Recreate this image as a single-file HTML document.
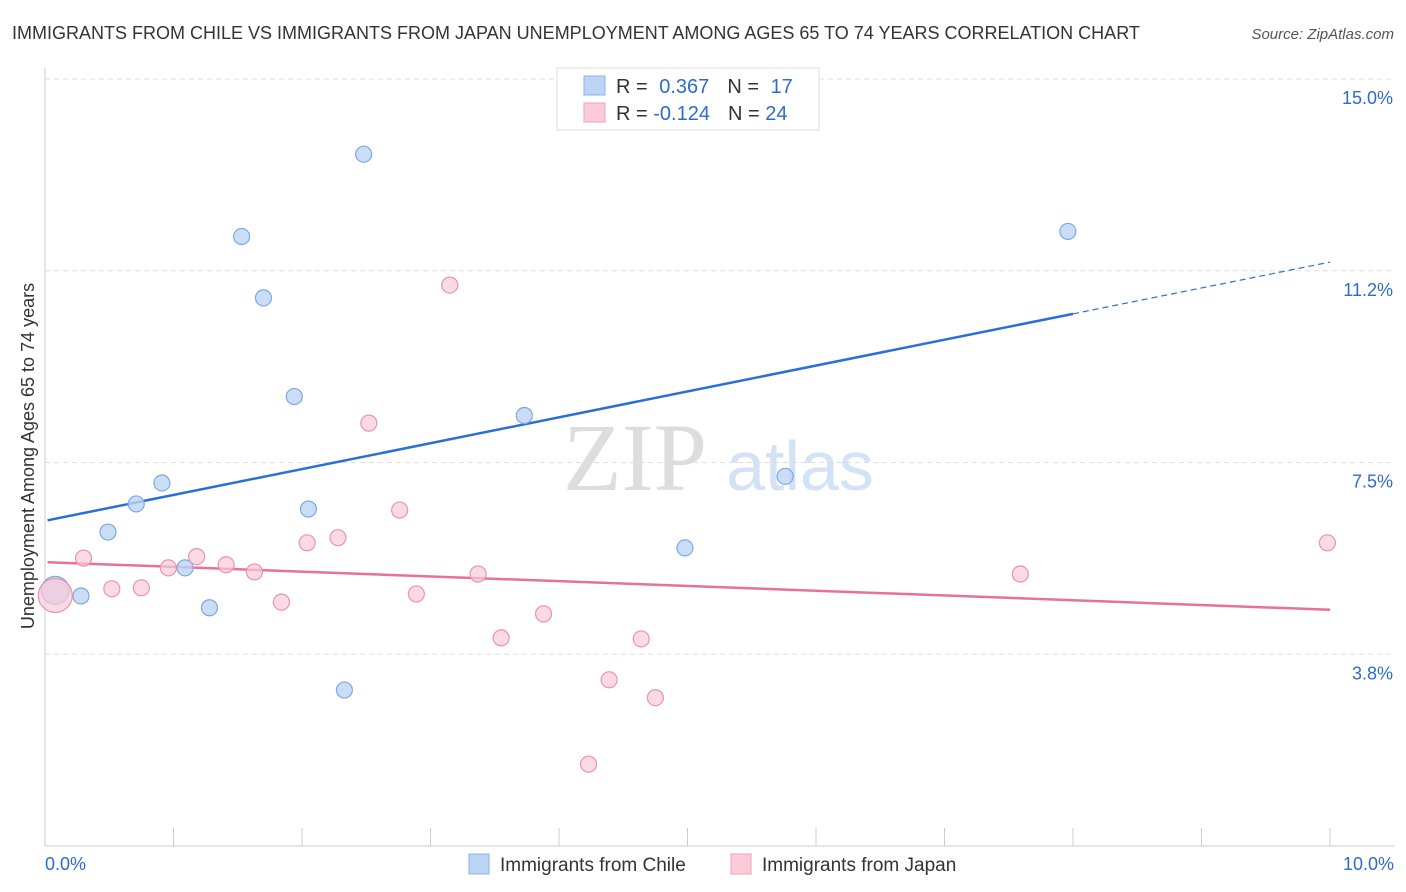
<!DOCTYPE html>
<html><head><meta charset="utf-8"><style>
body{margin:0;background:#fff;font-family:"Liberation Sans",sans-serif;}
svg{display:block}
</style></head><body>
<svg id="chart" width="1406" height="892">
<text x="12" y="39" font-size="18" fill="#333">IMMIGRANTS FROM CHILE VS IMMIGRANTS FROM JAPAN UNEMPLOYMENT AMONG AGES 65 TO 74 YEARS CORRELATION CHART</text>
<text x="1394" y="39" font-size="15" fill="#555" font-style="italic" text-anchor="end">Source: ZipAtlas.com</text>
<text x="635" y="490" font-size="96" fill="#ddd" font-family="Liberation Serif,serif" text-anchor="middle">ZIP</text>
<text x="800" y="490" font-size="70" fill="#d4e2f5" text-anchor="middle">atlas</text>
<text transform="translate(34,456) rotate(-90)" font-size="18" fill="#333" text-anchor="middle">Unemployment Among Ages 65 to 74 years</text>
<g id="grid"></g><g id="lines"></g><g id="points"></g>
<g>
<rect x="557" y="68" width="262" height="62" fill="#fff" stroke="#ddd"/>
<rect x="584" y="76" width="21" height="19" fill="#bcd4f5" stroke="#8cb3e8"/>
<rect x="584" y="103" width="21" height="19" fill="#fbcbd8" stroke="#efa0b8"/>
<text x="616" y="93" font-size="20" fill="#333">R = <tspan fill="#2d6bd0" dx="6">0.367</tspan><tspan fill="#333" dx="18">N = </tspan><tspan fill="#2d6bd0" dx="6">17</tspan></text>
<text x="616" y="120" font-size="20" fill="#333">R = <tspan fill="#2d6bd0">-0.124</tspan><tspan fill="#333" dx="18">N = </tspan><tspan fill="#2d6bd0">24</tspan></text>
</g>
<g>
<rect x="469" y="854" width="20" height="20" fill="#bcd4f5" stroke="#8cb3e8"/>
<text x="500" y="871" font-size="19" fill="#333">Immigrants from Chile</text>
<rect x="731" y="854" width="20" height="20" fill="#fbcbd8" stroke="#efa0b8"/>
<text x="762" y="871" font-size="19" fill="#333">Immigrants from Japan</text>
</g>
</svg>
<script>
const yTicks=[15.0,11.25,7.5,3.75];
const yTickLabels=["15.0%","11.2%","7.5%","3.8%"];
const xTickLabels=["0.0%","10.0%"];
const chileX=[0.08,0.28,0.49,0.71,0.91,1.09,1.28,1.53,1.70,1.94,2.05,2.33,2.48,3.73,4.98,5.76,7.96];
const chileY=[5.0,4.89,6.14,6.69,7.10,5.44,4.66,11.92,10.72,8.79,6.59,3.05,13.53,8.42,5.83,7.23,12.02];
const japanX=[0.08,0.30,0.52,0.75,0.96,1.18,1.41,1.63,1.84,2.04,2.28,2.52,2.76,2.89,3.15,3.37,3.55,3.88,4.23,4.39,4.64,4.75,7.59,9.98];
const japanY=[4.9,5.63,5.03,5.05,5.44,5.66,5.50,5.36,4.77,5.93,6.03,8.27,6.57,4.93,10.97,5.32,4.07,4.54,1.6,3.25,4.05,2.9,5.32,5.93];
const chileTrend=[6.36,11.42];
const japanTrend=[5.55,4.62];
const X0=45,X1=1330,Y0=846,YS=51.13;
const sx=v=>X0+v*(X1-X0)/10, sy=v=>Y0-v*YS;
const NS="http://www.w3.org/2000/svg";
function mk(t,a,p){const e=document.createElementNS(NS,t);for(const k in a)e.setAttribute(k,a[k]);p.appendChild(e);return e;}
const grid=document.getElementById('grid'),lines=document.getElementById('lines'),pts=document.getElementById('points');
yTicks.forEach((v,i)=>{
 const l=mk('line',{x1:45,x2:1394,y1:sy(v),y2:sy(v),stroke:'#ddd','stroke-dasharray':'5,4'},grid);
 
 
 const t=mk('text',{x:1393,y:sy(v)+25,'font-size':18,fill:'#2d6bd0','text-anchor':'end'},grid);t.textContent=yTickLabels[i];
 
 
});
mk('line',{x1:45,x2:45,y1:68,y2:846,stroke:'#ccc'},grid);
mk('line',{x1:45,x2:1394,y1:846,y2:846,stroke:'#ccc'},grid);
for(let i=1;i<=10;i++){const t=mk('line',{x1:sx(i),x2:sx(i),y1:828,y2:846,stroke:'#ccc'},grid);
 
 }
[[45,'start'],[1394,'end']].forEach((p,i)=>{const t=mk('text',{x:p[0],y:870,'font-size':18,fill:'#2d6bd0','text-anchor':p[1]},grid);t.textContent=xTickLabels[i];
 
 });
const cy=x=>chileTrend[0]+(chileTrend[1]-chileTrend[0])*x/10;
const l1=mk('line',{x1:sx(0.02),y1:sy(cy(0.02)),x2:sx(8.0),y2:sy(cy(8.0)),stroke:'#2a6fd6','stroke-width':2.5},lines);


const l1d=mk('line',{x1:sx(8.0),y1:sy(cy(8.0)),x2:sx(10),y2:sy(cy(10)),stroke:'#2a6fd6','stroke-width':1.2,'stroke-dasharray':'6,4'},lines);


const l2=mk('line',{x1:sx(0.02),y1:sy(japanTrend[0]),x2:sx(10),y2:sy(japanTrend[1]),stroke:'#e8709a','stroke-width':2.5},lines);


chileX.forEach((x,i)=>{const c=mk('circle',{cx:sx(x),cy:sy(chileY[i]),r:i==0?14:8,fill:'#bcd4f5','fill-opacity':0.8,stroke:'#7fa8e0','stroke-width':1.2},pts);
 
 });
japanX.forEach((x,i)=>{const c=mk('circle',{cx:sx(x),cy:sy(japanY[i]),r:i==0?17:8,fill:'#fbcbd8','fill-opacity':0.7,stroke:'#eb92ad','stroke-width':1.2},pts);
 
 });
</script>
</body></html>
